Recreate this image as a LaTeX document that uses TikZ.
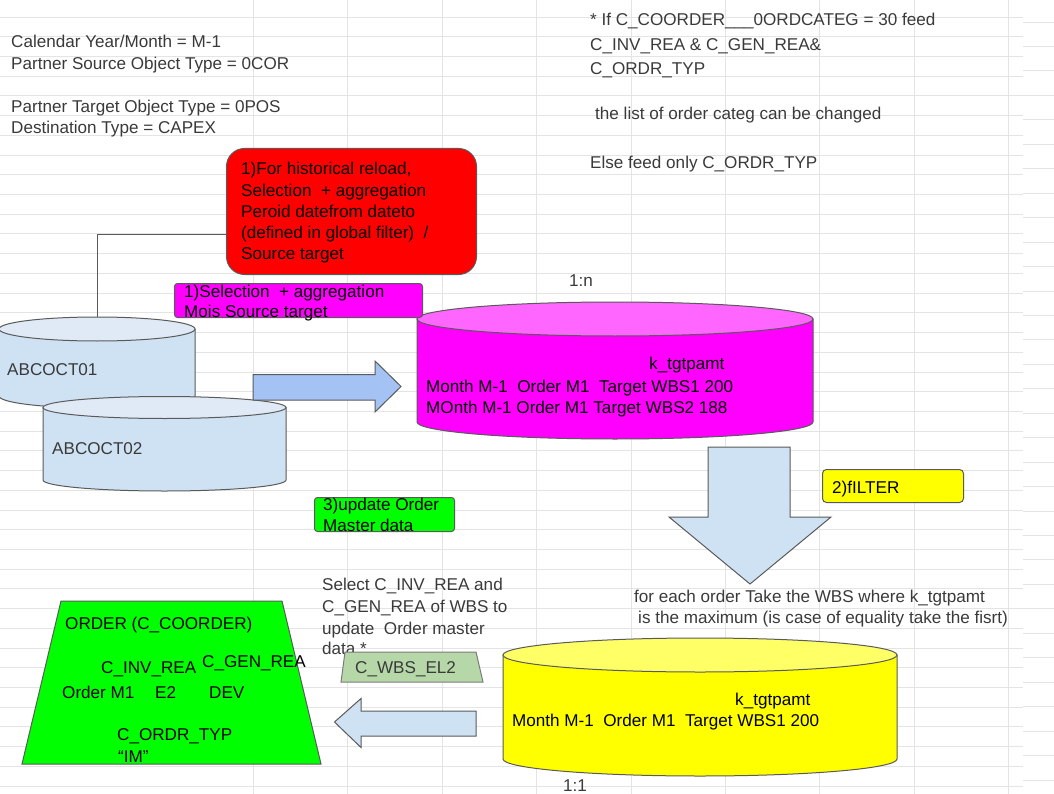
\documentclass[tikz,border=0pt]{standalone}
\usepackage{fontspec}
\setmainfont{Liberation Sans}
\definecolor{gridc}{HTML}{E4E4E4}
\definecolor{txtgray}{HTML}{3A3A3A}
\definecolor{edge}{HTML}{5A5A5A}
\definecolor{lblue}{HTML}{CFE2F3}
\definecolor{lbluetop}{HTML}{DFEAF6}
\definecolor{arrowblue}{HTML}{A4C2F4}
\definecolor{mag}{HTML}{FF00FF}
\definecolor{magtop}{HTML}{FF66FF}
\definecolor{yel}{HTML}{FFFF00}
\definecolor{yeltop}{HTML}{FFFF66}
\definecolor{grn}{HTML}{00FF00}
\definecolor{sage}{HTML}{B6D7A8}
\definecolor{redbox}{HTML}{FF0000}
\newcommand\fs{\fontsize{17.1}{21}\selectfont}
\newcommand\dbcyl[7]{%
  \pgfmathsetmacro\cylrx{(#2-#1)/2}%
  \pgfmathsetmacro\cylcx{(#2+#1)/2}%
  \path[draw=edge, line width=1pt, fill=#6] (#1,#3) -- (#1,#4)
     arc[start angle=180, end angle=360, x radius=\cylrx pt, y radius=#5 pt]
     -- (#2,#3) -- cycle;
  \path[draw=edge, line width=1pt, fill=#7] (\cylcx,#3) ellipse[x radius=\cylrx pt, y radius=#5 pt];
}
\begin{document}
\begin{tikzpicture}[x=1pt, y=-1pt,
  lbl/.style={anchor=base west, inner sep=0pt, font=\fs, text=txtgray},
  blk/.style={anchor=base west, inner sep=0pt, font=\fs, text=black},
  shapeline/.style={draw=edge, line width=1pt},
  boxnode/.style={shapeline, anchor=north west, inner sep=0pt}]
\useasboundingbox (0,0) rectangle (1054,794);
\fill[white] (0,0) rectangle (1054,794);
% spreadsheet grid
\foreach \k in {0,...,39} {\draw[gridc, line width=0.9pt] (0,{17+19.72*\k}) -- (1023,{17+19.72*\k});}
\foreach \k in {0,...,31} {\draw[gridc, line width=0.9pt] (1023,{22+24.45*\k}) -- (1054,{22+24.45*\k});}
\foreach \xx in {253,347,442,536,631,725,819,914,1008} {\draw[gridc, line width=0.9pt] (\xx,0) -- (\xx,794);}

% top-left notes
\node[lbl] (t1) at (11,48) {Calendar Year/Month = M-1};
\node[lbl] (t2) at (11,69.5) {Partner Source Object Type = 0COR};
\node[lbl] (t3) at (11,113) {Partner Target Object Type = 0POS};
\node[lbl] (t4) at (11,134) {Destination Type = CAPEX};

% top-right notes
\node[lbl] (r1) at (590,26) {* If C\_COORDER\_\_\_0ORDCATEG = 30 feed};
\node[lbl] (r2) at (590,50.5) {C\_INV\_REA \& C\_GEN\_REA\&};
\node[lbl] (r3) at (590,74.6) {C\_ORDR\_TYP};
\node[lbl] (r4) at (595,120) {the list of order categ can be changed};
\node[lbl] (r5) at (590,169) {Else feed only C\_ORDR\_TYP};

% red box
\node[boxnode, fill=redbox, rounded corners=18pt, minimum width=250pt, minimum height=126pt] (histbox) at (226,148) {};
\node[blk] (h1) at (241,175) {1)For historical reload,};
\node[blk] (h2) at (241,197) {Selection\ \ + aggregation};
\node[blk] (h3) at (241,218) {Peroid datefrom dateto};
\node[blk] (h4) at (241,239) {(defined in global filter)\ \ /};
\node[blk] (h5) at (241,260) {Source target};

% source cylinders
\dbcyl{-1}{195}{329}{396}{12}{lblue}{lbluetop}
\coordinate (abc1top) at (97,317);
\draw[draw=edge, line width=1pt] ([yshift=-23pt]histbox.west) -| (abc1top);
\node[blk, text=txtgray] (abc1) at (7,375) {ABCOCT01};
\dbcyl{43}{286}{407.5}{480}{11}{lblue}{lbluetop}
\node[blk, text=txtgray] (abc2) at (52,454) {ABCOCT02};

% right arrow
\path[shapeline, fill=arrowblue] (253,374.6) -- (375,374.6) -- (375,361) -- (401,386.5) -- (375,412) -- (375,400) -- (253,400) -- cycle;

% magenta cylinder
\dbcyl{417}{813}{319}{422}{17}{mag}{magtop}
\node[lbl] (onen) at (569,286) {1:n};
\node[blk] (k1) at (649,369) {k\_tgtpamt};
\node[blk] (m1) at (426,392) {Month M-1\ \ Order M1\ \ Target WBS1 200};
\node[blk] (m2) at (426,413) {MOnth M-1 Order M1 Target WBS2 188};

% magenta label box
\node[boxnode, fill=mag, rounded corners=3pt, minimum width=248pt, minimum height=34pt] (selbox) at (174,283) {};
\node[blk] (s1) at (184,297) {1)Selection\ \ + aggregation};
\node[blk] (s2) at (184,317) {Mois Source target};

% update box
\node[boxnode, fill=grn, rounded corners=3pt, minimum width=140pt, minimum height=34pt] (updbox) at (314,497) {};
\node[blk] (u1) at (323,510) {3)update Order};
\node[blk] (u2) at (323,531) {Master data};

% down arrow
\path[shapeline, fill=lblue] (708,447) -- (790,447) -- (790,517) -- (831,517) -- (750,584) -- (669,517) -- (708,517) -- cycle;

% filter box
\node[boxnode, fill=yel, rounded corners=4pt, minimum width=141pt, minimum height=33pt] (filtbox) at (822,469) {};
\node[blk] (fl) at (832,493) {2)fILTER};

\node[lbl] (f1) at (634,602) {for each order Take the WBS where k\_tgtpamt};
\node[lbl] (f2) at (638,623) {is the maximum (is case of equality take the fisrt)};

% yellow cylinder
\dbcyl{503}{897}{655}{759}{17}{yel}{yeltop}
\node[blk] (k2) at (735,705) {k\_tgtpamt};
\node[blk] (y1) at (512,726) {Month M-1\ \ Order M1\ \ Target WBS1 200};
\node[lbl] (oneone) at (563,791.5) {1:1};

% select note
\node[lbl] (q1) at (322,590) {Select C\_INV\_REA and};
\node[lbl] (q2) at (322,612) {C\_GEN\_REA of WBS to};
\node[lbl] (q3) at (322,634) {update\ \ Order master};
\node[lbl] (q4) at (322,654) {data *};

% WBS trapezoid
\path[draw=edge!80, line width=1pt, fill=sage] (345,652) -- (476,652) -- (483,682) -- (341,682) -- cycle;
\node[blk, text=txtgray] (wbs) at (355,673) {C\_WBS\_EL2};

% left arrow
\path[shapeline, fill=lblue] (476,711) -- (361,711) -- (361,698.5) -- (334.5,722) -- (361,747.5) -- (361,736) -- (476,736) -- cycle;

% order trapezoid
\path[shapeline, fill=grn] (61,601) -- (282,601) -- (321,764) -- (22,764) -- cycle;
\node[blk] (o1) at (65,629) {ORDER (C\_COORDER)};
\node[blk] (o2) at (101,673) {C\_INV\_REA};
\node[blk] (o3) at (202,667) {C\_GEN\_REA};
\node[blk] (o4) at (62,698) {Order M1};
\node[blk] (o5) at (155,698) {E2};
\node[blk] (o6) at (209,698) {DEV};
\node[blk] (o7) at (117,740) {C\_ORDR\_TYP};
\node[blk] (o8) at (118,762) {“IM”};
\end{tikzpicture}
\end{document}
